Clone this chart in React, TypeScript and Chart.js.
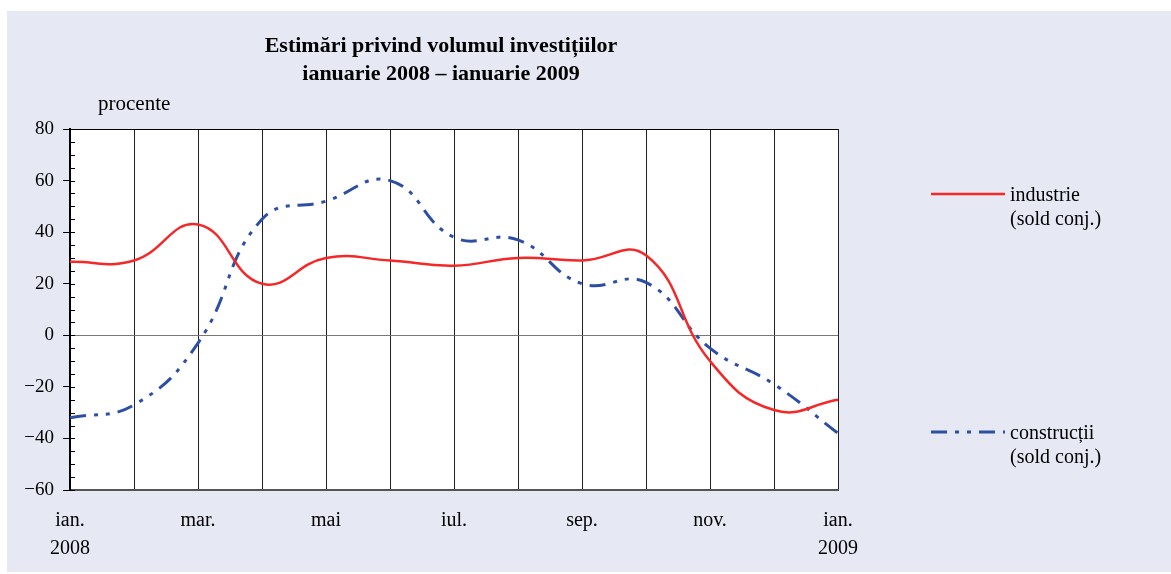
import React, { useEffect, useRef } from "react";
import { Chart, registerables } from "chart.js";

Chart.register(...registerables);

const months = ["ian.", "feb.", "mar.", "apr.", "mai", "iun.", "iul.", "aug.", "sep.", "oct.", "nov.", "dec.", "ian."];
const firstYear = "2008";
const lastYear = "2009";
const industrie = [28.5, 29, 43, 20, 30, 29, 27, 30, 29, 31, -10, -29, -25];
const constructii = [-32, -27, -3, 45, 52, 60, 38, 37, 20, 20.5, -5, -19, -38];
const titleLines = ["Estimări privind volumul investițiilor", "ianuarie 2008 – ianuarie 2009"];
const unitLabel = "procente";
const legendItems = [
  { lines: ["industrie", "(sold conj.)"], color: "#f52727", dash: [] as number[], width: 2.5 },
  { lines: ["construcții", "(sold conj.)"], color: "#2d4fa3", dash: [16, 8, 4, 8, 4, 8], width: 3 },
];

const FONT = "'Liberation Serif', 'Times New Roman', serif";

export default function App() {
  const ref = useRef<HTMLCanvasElement | null>(null);

  useEffect(() => {
    if (!ref.current) return;
    const decor = {
      id: "decor",
      beforeDraw(chart: any) {
        const { ctx, chartArea } = chart;
        ctx.save();
        ctx.fillStyle = "#ffffff";
        ctx.fillRect(chartArea.left, chartArea.top, chartArea.right - chartArea.left, chartArea.bottom - chartArea.top);
        ctx.restore();
      },
      afterDraw(chart: any) {
        const { ctx, chartArea } = chart;
        const y = chart.scales.y;
        ctx.save();
        // minor inner ticks
        ctx.strokeStyle = "#000";
        ctx.lineWidth = 1;
        for (let v = -60; v <= 80; v += 5) {
          const py = Math.round(y.getPixelForValue(v)) + 0.5;
          ctx.beginPath();
          ctx.moveTo(chartArea.left, py);
          ctx.lineTo(chartArea.left + 5, py);
          ctx.stroke();
        }
        // title
        ctx.fillStyle = "#000";
        ctx.textAlign = "center";
        ctx.textBaseline = "middle";
        ctx.font = `bold 22px ${FONT}`;
        ctx.fillText(titleLines[0], 434, 35);
        ctx.fillText(titleLines[1], 434, 63);
        // unit label
        ctx.font = `21px ${FONT}`;
        ctx.textAlign = "left";
        ctx.fillText(unitLabel, 91, 93);
        // legend
        ctx.font = `20px ${FONT}`;
        const ys = [183, 421];
        legendItems.forEach((it, i) => {
          ctx.strokeStyle = it.color;
          ctx.lineWidth = it.width;
          ctx.setLineDash(it.dash);
          ctx.beginPath();
          ctx.moveTo(924, ys[i]);
          ctx.lineTo(998, ys[i]);
          ctx.stroke();
          ctx.setLineDash([]);
          ctx.fillStyle = "#000";
          ctx.fillText(it.lines[0], 1003, ys[i] + 2);
          ctx.fillText(it.lines[1], 1003, ys[i] + 26);
        });
        ctx.restore();
      },
    };

    const chart = new Chart(ref.current, {
      type: "line",
      data: {
        labels: months,
        datasets: [
          {
            label: "industrie (sold conj.)",
            data: industrie,
            borderColor: legendItems[0].color,
            borderWidth: 2.5,
            pointRadius: 0,
            tension: 0.45,
            fill: false,
          },
          {
            label: "construcții (sold conj.)",
            data: constructii,
            borderColor: legendItems[1].color,
            borderWidth: 3,
            borderDash: legendItems[1].dash,
            pointRadius: 0,
            tension: 0.45,
            fill: false,
          },
        ],
      },
      options: {
        responsive: false,
        animation: false,
        layout: { padding: { left: 13, right: 333, top: 118, bottom: 0 } },
        plugins: { legend: { display: false }, title: { display: false }, tooltip: { enabled: false } },
        scales: {
          x: {
            type: "category",
            offset: false,
            afterFit: (s: any) => { s.height = 82; },
            grid: { display: true, color: "#222", lineWidth: 1, drawTicks: false },
            border: { display: true, color: "#555", width: 2 },
            ticks: {
              autoSkip: false,
              maxRotation: 0,
              padding: 17,
              color: "#000",
              font: { family: FONT, size: 20, lineHeight: 1.4 },
              callback: (_v: any, idx: number) => {
                if (idx % 2 !== 0) return "";
                if (idx === 0) return [months[0], firstYear];
                if (idx === months.length - 1) return [months[idx], lastYear];
                return months[idx];
              },
            },
          },
          y: {
            min: -60,
            max: 80,
            afterFit: (s: any) => { s.width = 50; },
            grid: {
              display: true,
              drawTicks: true,
              tickLength: 7,
              tickColor: "#000",
              color: (c: any) => (c.tick && c.tick.value === 0 ? "#777" : c.tick && c.tick.value === 80 ? "#000" : "rgba(0,0,0,0)"),
              lineWidth: 1,
            },
            border: { display: true, color: "#000", width: 2 },
            ticks: {
              stepSize: 20,
              padding: 9,
              color: "#000",
              font: { family: FONT, size: 19 },
              callback: (v: any) => String(v).replace("-", "\u2212"),
            },
          },
        },
      },
      plugins: [decor],
    } as any);
    return () => chart.destroy();
  }, []);

  return (
    <div style={{ position: "absolute", left: 7, top: 11, width: 1164, height: 561, background: "#e6e8f4" }}>
      <canvas ref={ref} width={1164} height={561} style={{ display: "block" }} />
    </div>
  );
}
